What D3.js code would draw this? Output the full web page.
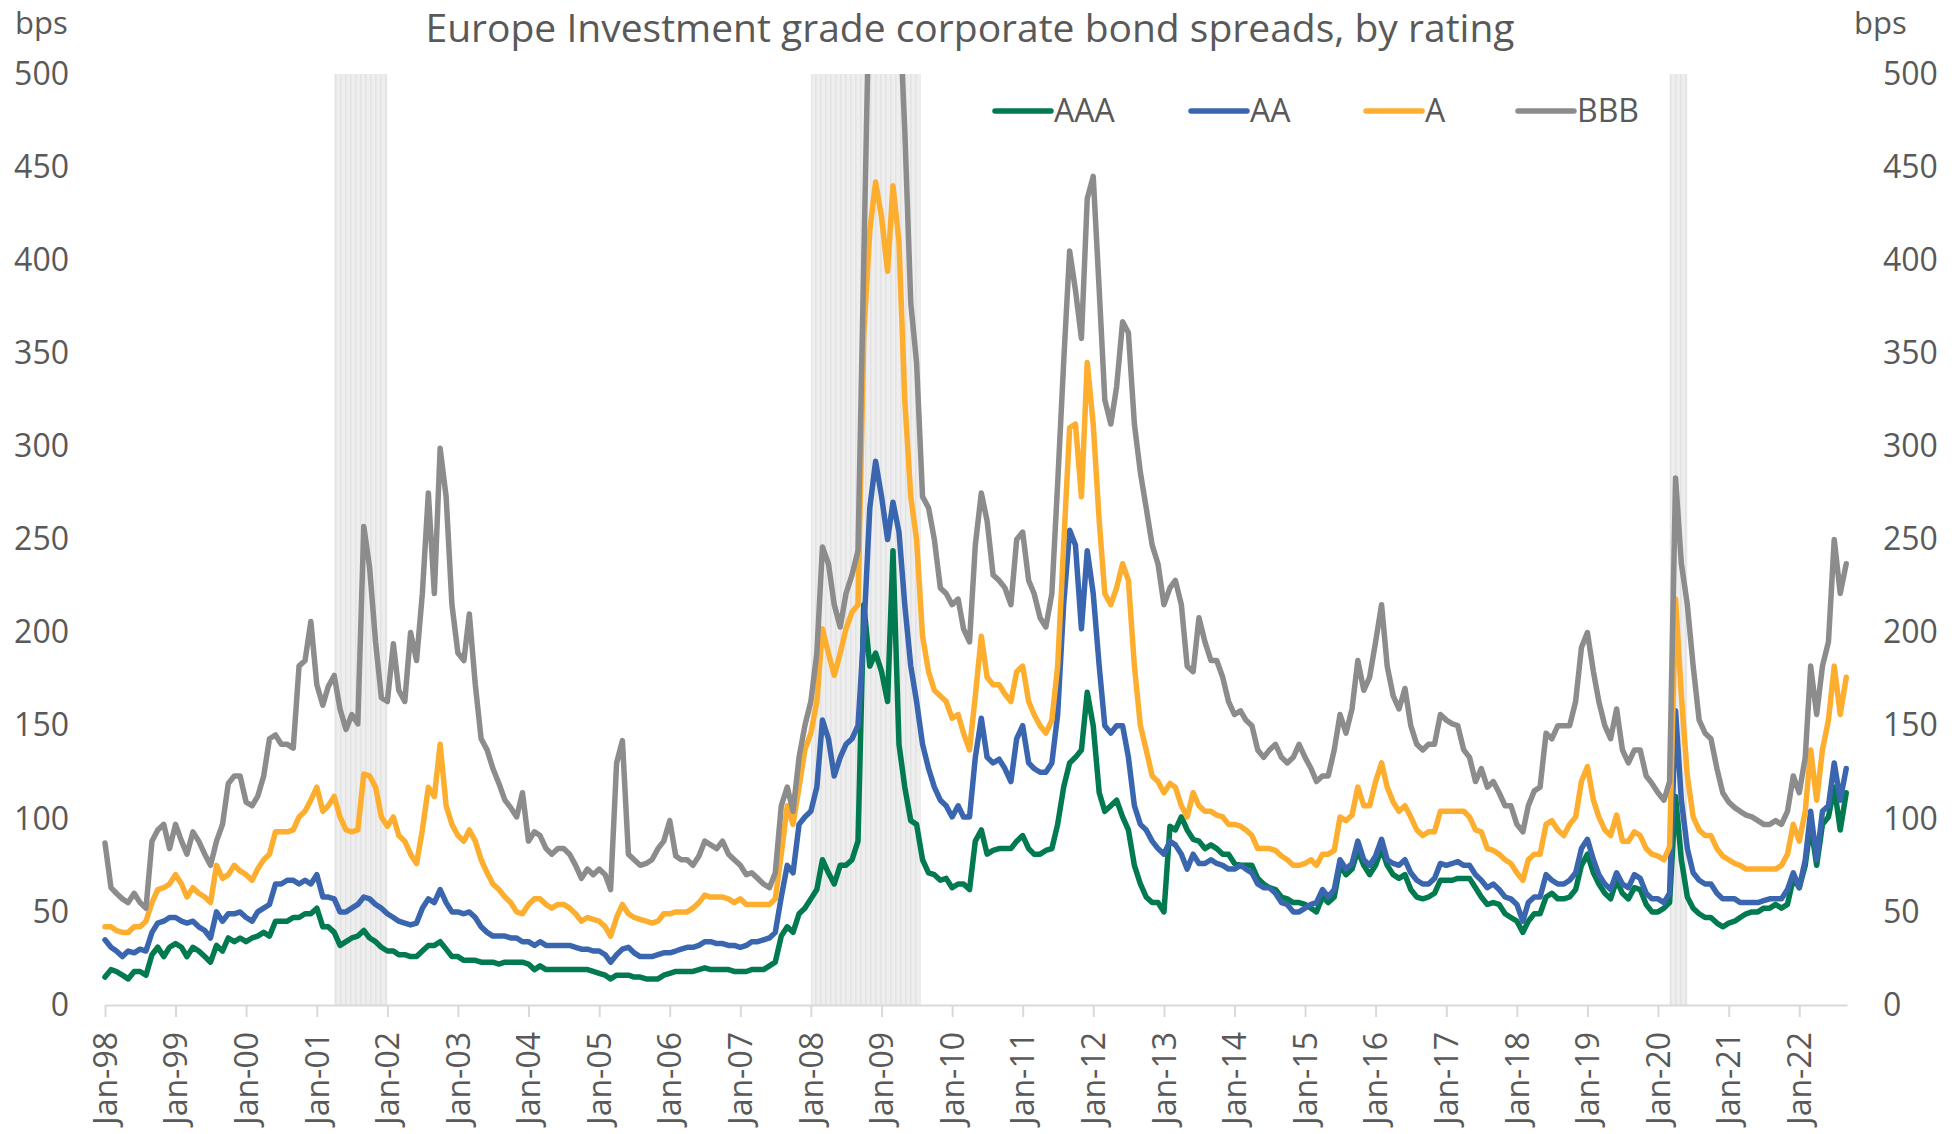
<!DOCTYPE html>
<html>
<head>
<meta charset="utf-8">
<script src="https://cdn.jsdelivr.net/npm/d3@7"></script>
<style>
  html, body { margin: 0; padding: 0; background: #fff; }
  svg text { font-family: "Segoe UI", "Open Sans", sans-serif; fill: #595959; }
</style>
</head>
<body>
<svg id="chart" width="1960" height="1134"></svg>
<script>
// monthly readings, first value = Jan 1998, one per month
const firstMonth = '1998-01';

const aaa = [
  15,19,18,16,14,18,18,16,27,31,26,31,
  33,31,26,31,29,26,23,32,29,36,34,36,
  34,36,37,39,37,45,45,45,47,47,49,49,
  52,42,42,39,32,34,36,37,40,36,34,31,
  29,29,27,27,26,26,29,32,32,34,30,26,
  26,24,24,24,23,23,23,22,23,23,23,23,
  22,19,21,19,19,19,19,19,19,19,19,18,
  17,16,14,16,16,16,15,15,14,14,14,16,
  17,18,18,18,18,19,20,19,19,19,19,18,
  18,18,19,19,19,21,23,37,42,39,49,52,
  57,62,78,71,65,75,75,78,88,215,182,189,
  179,163,244,140,117,99,97,78,71,70,67,68,
  63,65,65,62,88,94,81,83,84,84,84,88,
  91,84,81,81,83,84,97,117,130,133,137,168,
  150,114,104,107,110,101,94,75,65,58,55,55,
  50,96,94,101,94,89,88,84,86,84,81,81,
  76,75,75,75,68,65,63,62,58,57,55,55,
  54,52,50,58,55,58,75,70,73,83,75,70,
  75,84,75,70,68,70,62,58,57,58,60,67,
  67,67,68,68,68,63,58,54,55,54,49,47,
  45,39,45,49,49,58,60,57,57,58,62,75,
  81,71,65,60,57,67,60,57,63,62,54,50,
  50,52,55,112,78,58,52,49,47,47,44,42,
  44,45,47,49,50,50,52,52,54,52,54,68,
  63,75,97,75,97,101,117,94,114
];

const aa = [
  35,31,29,26,29,28,30,29,39,44,45,47,
  47,45,44,45,42,40,36,50,45,49,49,50,
  47,45,50,52,54,65,65,67,67,65,67,65,
  70,58,58,57,50,50,52,54,58,57,54,52,
  49,47,45,44,43,44,52,57,55,62,55,50,
  50,49,50,47,42,39,37,37,37,36,36,34,
  34,32,34,32,32,32,32,32,31,30,30,29,
  29,27,23,27,30,31,28,26,26,26,27,28,
  28,29,30,31,31,32,34,34,33,33,32,32,
  31,32,34,34,35,36,39,58,75,71,97,101,
  104,117,153,143,123,133,140,143,150,200,267,292,
  273,250,270,254,215,182,163,140,127,117,110,107,
  101,107,101,101,133,154,133,130,132,127,120,143,
  150,130,127,125,125,130,156,215,255,247,202,244,
  221,182,150,146,150,150,133,107,97,94,88,84,
  81,88,86,81,73,81,76,76,78,76,75,73,
  73,75,73,71,65,63,63,60,55,54,50,50,
  52,54,55,62,58,62,78,73,76,88,78,75,
  80,89,78,76,75,78,71,67,65,65,68,76,
  75,76,77,75,75,70,67,63,65,62,58,57,
  54,45,55,58,58,70,67,65,65,67,71,84,
  89,78,70,65,62,71,65,63,70,68,60,57,
  57,55,60,158,110,84,71,67,65,65,60,57,
  57,57,55,55,55,55,56,57,57,57,62,71,
  63,78,104,78,104,107,130,110,127
];

const singleA = [
  42,42,40,39,39,42,42,45,55,62,63,65,
  70,65,58,63,60,58,55,75,68,70,75,72,
  70,67,73,78,81,93,93,93,94,101,104,110,
  117,104,107,112,101,94,93,94,124,123,117,101,
  96,101,91,88,81,76,94,117,112,140,107,97,
  91,88,94,88,78,71,65,62,58,55,50,49,
  54,57,57,54,52,54,54,52,49,45,47,46,
  45,42,37,47,54,49,47,46,45,44,45,49,
  49,50,50,50,52,55,59,58,58,58,57,55,
  57,54,54,54,54,54,57,81,107,97,117,137,
  146,163,202,189,177,189,202,211,215,360,416,442,
  423,394,440,410,325,273,250,198,179,169,166,163,
  154,156,146,137,166,198,176,172,172,167,163,179,
  182,163,156,150,146,153,182,247,310,312,273,345,
  312,260,221,215,224,237,228,182,150,137,123,120,
  114,119,117,107,101,114,107,104,104,102,101,97,
  97,96,94,91,84,84,84,83,80,78,75,75,
  76,78,75,81,81,83,101,99,102,117,107,107,
  120,130,117,109,104,107,101,94,91,93,93,104,
  104,104,104,104,101,94,93,84,83,81,78,76,
  71,67,78,81,81,97,99,94,91,97,101,120,
  128,110,101,94,91,102,88,88,93,91,84,81,
  80,78,85,218,166,123,101,94,91,91,84,80,
  78,76,75,73,73,73,73,73,73,75,81,97,
  88,104,137,110,137,153,182,156,176
];

const bbb = [
  87,63,60,57,55,60,55,52,88,94,97,84,
  97,88,81,93,88,81,75,88,97,119,123,123,
  109,107,112,123,143,145,140,140,138,182,185,206,
  172,161,171,177,159,148,156,151,257,235,195,165,
  163,194,169,163,200,185,221,275,221,299,273,215,
  189,185,210,172,143,137,127,119,110,106,101,114,
  88,93,91,84,81,84,84,81,75,68,73,70,
  73,70,62,130,142,81,78,75,76,78,84,88,
  99,80,78,78,75,80,88,86,84,88,81,78,
  75,70,71,68,65,63,71,107,117,104,133,150,
  163,189,246,237,215,203,221,231,244,400,560,600,
  580,600,560,540,470,377,345,273,267,250,224,221,
  215,218,202,195,247,275,260,231,228,224,215,250,
  254,228,221,208,203,221,280,345,405,384,358,433,
  445,384,325,312,332,367,361,312,286,267,247,237,
  215,224,228,215,182,179,208,195,185,185,176,163,
  156,158,153,150,137,133,137,140,133,130,133,140,
  133,127,120,123,123,137,156,146,159,185,169,176,
  195,215,182,166,159,170,150,140,137,140,140,156,
  153,151,150,137,133,120,127,117,120,114,107,107,
  97,93,107,115,117,146,143,150,150,150,163,192,
  200,179,163,150,143,159,137,130,137,137,123,119,
  114,110,120,283,237,215,182,153,146,143,127,114,
  109,106,104,102,101,99,97,97,99,97,104,123,
  114,133,182,156,182,195,250,221,237
];

const ratings = ['AAA', 'AA', 'A', 'BBB'];
const colors = ['#007a4e', '#3a66b0', '#fdae2f', '#8c8c8c'];
const yTicks = [0, 50, 100, 150, 200, 250, 300, 350, 400, 450, 500];
const shadeStarts = ['2001-04-01', '2008-01-01', '2020-03-01'];
const shadeEnds = ['2002-01-01', '2009-07-22', '2020-06-01'];
const titleText = 'Europe Investment grade corporate bond spreads, by rating';

const W = 1960, H = 1134;
const plot = { left: 105, right: 1847, top: 74, bottom: 1005 };

const svg = d3.select('#chart');
const start = d3.timeParse('%Y-%m')(firstMonth);
const dayParse = d3.timeParse('%Y-%m-%d');

const series = [aaa, aa, singleA, bbb].map((vals, k) => ({
    name: ratings[k],
    color: colors[k],
    values: vals.map((v, i) => ({ date: d3.timeMonth.offset(start, i), v: v }))
}));

const x = d3.scaleTime()
    .domain([start, dayParse('2022-09-05')])
    .range([plot.left, plot.right]);

const y = d3.scaleLinear()
    .domain([0, 500])
    .range([plot.bottom, plot.top]);

// striped grey bands
const defs = svg.append('defs');
const pat = defs.append('pattern')
    .attr('id', 'stripes')
    .attr('patternUnits', 'userSpaceOnUse')
    .attr('width', 5).attr('height', 10);
pat.append('rect').attr('width', 5).attr('height', 10).attr('fill', '#eeeeee');
pat.append('rect').attr('width', 1.5).attr('height', 10).attr('fill', '#e3e3e3');

defs.append('clipPath').attr('id', 'plotclip')
    .append('rect')
    .attr('x', plot.left - 5).attr('y', plot.top)
    .attr('width', plot.right - plot.left + 10)
    .attr('height', plot.bottom - plot.top + 5);

svg.append('g').selectAll('rect')
    .data(shadeStarts)
    .enter().append('rect')
    .attr('x', d => x(dayParse(d)))
    .attr('width', (d, i) => x(dayParse(shadeEnds[i])) - x(dayParse(d)))
    .attr('y', y(500))
    .attr('height', y(0) - y(500))
    .attr('fill', 'url(#stripes)');

// x axis
const xAxis = d3.axisBottom(x)
    .tickValues(d3.timeYear.range(start, dayParse('2022-06-01')))
    .tickFormat(d3.timeFormat('%b-%y'))
    .tickSize(12)
    .tickSizeOuter(0);

const gx = svg.append('g')
    .attr('transform', `translate(0,${plot.bottom})`)
    .call(xAxis);
gx.select('.domain').attr('stroke', '#d9d9d9').attr('stroke-width', 2);
gx.selectAll('.tick line').attr('stroke', '#d9d9d9').attr('stroke-width', 2);
gx.selectAll('.tick text')
    .attr('transform', 'rotate(-90)')
    .attr('text-anchor', 'end')
    .attr('x', -27)
    .attr('y', 0)
    .attr('dy', '0.35em')
    .style('font-size', '32px')
    .attr('fill', '#595959');

// y axes, both sides
const yLeft = svg.append('g')
    .attr('transform', `translate(${plot.left},0)`)
    .call(d3.axisLeft(y).tickValues(yTicks).tickSize(0).tickPadding(36));
const yRight = svg.append('g')
    .attr('transform', `translate(${plot.right},0)`)
    .call(d3.axisRight(y).tickValues(yTicks).tickSize(0).tickPadding(36));
[yLeft, yRight].forEach(g => {
    g.select('.domain').remove();
    g.selectAll('text').style('font-size', '32px').attr('fill', '#595959');
});

svg.append('text').attr('x', 15).attr('y', 23).attr('dy', '0.35em')
    .style('font-size', '31px').text('bps');
svg.append('text').attr('x', 1854).attr('y', 23).attr('dy', '0.35em')
    .style('font-size', '31px').text('bps');

// lines
const line = d3.line()
    .x(d => x(d.date))
    .y(d => y(d.v));

svg.append('g').attr('clip-path', 'url(#plotclip)')
    .selectAll('path')
    .data(series)
    .enter().append('path')
    .attr('d', d => line(d.values))
    .attr('fill', 'none')
    .attr('stroke', d => d.color)
    .attr('stroke-width', 5.5)
    .attr('stroke-linejoin', 'round')
    .attr('stroke-linecap', 'round');

// title
svg.append('text')
    .attr('x', 970).attr('y', 28).attr('dy', '0.35em')
    .attr('text-anchor', 'middle')
    .style('font-size', '39px')
    .text(titleText);

// legend
const legendX = [995, 1191, 1366, 1518];
const lg = svg.append('g').selectAll('g')
    .data(series)
    .enter().append('g')
    .attr('transform', (d, i) => `translate(${legendX[i]},111)`);
lg.append('line')
    .attr('x1', 0).attr('x2', 56)
    .attr('stroke', d => d.color)
    .attr('stroke-width', 5.5)
    .attr('stroke-linecap', 'round');
lg.append('text')
    .attr('x', 59).attr('dy', '0.35em')
    .style('font-size', '32px')
    .text(d => d.name);
</script>
</body>
</html>
